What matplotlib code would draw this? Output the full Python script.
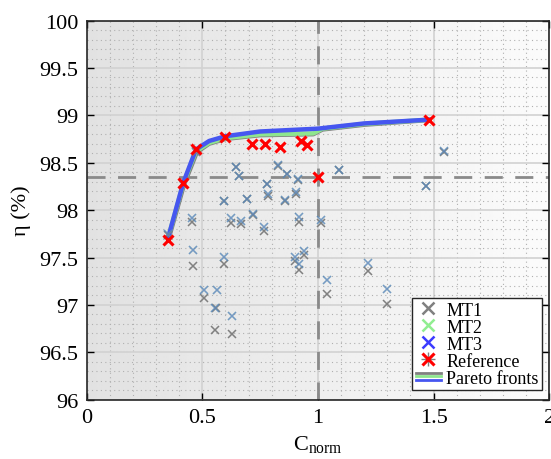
import numpy as np
import matplotlib
matplotlib.use("Agg")
import matplotlib.pyplot as plt
from matplotlib.lines import Line2D
from matplotlib.legend_handler import HandlerBase
from matplotlib.ticker import MultipleLocator

plt.rcParams['font.family'] = ['Liberation Serif', 'DejaVu Serif']
plt.rcParams['mathtext.fontset'] = 'custom'
plt.rcParams['mathtext.rm'] = 'Liberation Serif'
plt.rcParams['mathtext.it'] = 'Liberation Serif:italic'

# design points (normalised cost, efficiency)
mt23_c = [0.353, 0.418, 0.473, 0.458, 0.461, 0.508, 0.565, 0.557, 0.627, 0.594, 0.594, 0.623,
          0.644, 0.660, 0.666, 0.694, 0.718, 0.767, 0.781, 0.785, 0.829, 0.857, 0.865, 0.899,
          0.905, 0.912, 0.918, 0.919, 0.941, 1.012, 1.038, 1.092, 1.215, 1.297, 1.467, 1.546]
mt23_eta = [97.75, 98.29, 98.62, 97.92, 97.58, 97.16, 97.16, 96.97, 96.88, 97.51, 98.10, 97.92,
            98.46, 98.36, 97.89, 98.12, 97.96, 97.82, 98.28, 98.17, 98.48, 98.11, 98.38, 97.51,
            98.19, 98.33, 97.93, 97.43, 97.57, 97.90, 97.26, 98.42, 97.44, 97.17, 98.26, 98.62]
mt1_c = [0.353, 0.418, 0.473, 0.458, 0.461, 0.508, 0.555, 0.559, 0.627, 0.594, 0.594, 0.623,
         0.644, 0.660, 0.666, 0.694, 0.718, 0.767, 0.781, 0.785, 0.829, 0.857, 0.865, 0.899,
         0.905, 0.912, 0.918, 0.919, 0.941, 1.012, 1.038, 1.092, 1.215, 1.297, 1.467, 1.546]
mt1_eta = [97.74, 98.28, 98.61, 97.88, 97.41, 97.07, 96.74, 96.97, 96.69, 97.43, 98.10, 97.86,
           98.46, 98.36, 97.85, 98.12, 97.95, 97.78, 98.28, 98.15, 98.47, 98.10, 98.38, 97.46,
           98.17, 98.32, 97.88, 97.37, 97.53, 97.86, 97.11, 98.42, 97.36, 97.01, 98.25, 98.61]

ref_c = [0.354, 0.418, 0.473, 0.598, 0.713, 0.771, 0.837, 0.925, 0.952, 1.0, 1.482]
ref_eta = [97.69, 98.29, 98.64, 98.77, 98.70, 98.70, 98.67, 98.73, 98.69, 98.35, 98.955]

# pareto fronts
front1_c = [0.358, 0.422, 0.477, 0.53, 0.60, 0.75, 0.98, 1.02, 1.20, 1.48]
front1_eta = [97.72, 98.27, 98.61, 98.70, 98.75, 98.79, 98.80, 98.85, 98.90, 98.95]
front2_c = [0.354, 0.418, 0.473, 0.53, 0.60, 0.75, 0.98, 1.02, 1.20, 1.48]
front2_eta = [97.72, 98.28, 98.62, 98.71, 98.76, 98.80, 98.81, 98.86, 98.91, 98.955]
front3_c = [0.354, 0.418, 0.473, 0.53, 0.60, 0.75, 1.0, 1.20, 1.48]
front3_eta = [97.72, 98.29, 98.64, 98.73, 98.78, 98.83, 98.86, 98.915, 98.955]

c_ref, eta_ref = 1.0, 98.35

gray = '#808080'
green = '#8ee68e'
blue = '#4656f0'


class HandlerFronts(HandlerBase):
    def create_artists(self, legend, orig_handle, xdescent, ydescent,
                       width, height, fontsize, trans):
        out = []
        for i, col in enumerate([gray, green, blue]):
            y = height / 2 - ydescent + (1 - i) * height * 0.28
            out.append(Line2D([-xdescent, width - xdescent], [y, y], color=col,
                              lw=2.0, transform=trans))
        return out


fig = plt.figure(figsize=(5.51, 4.6), dpi=100)
ax = fig.add_axes([0.157, 0.129, 0.84, 0.824])

grad = np.linspace(0.885, 0.985, 256).reshape(1, -1)
ax.imshow(grad, cmap='gray', vmin=0, vmax=1, extent=[0, 2, 96, 100],
          aspect='auto', zorder=0, interpolation='bilinear')

ax.set_xlim(0, 2)
ax.set_ylim(96, 100)
ax.xaxis.set_major_locator(MultipleLocator(0.5))
ax.yaxis.set_major_locator(MultipleLocator(0.5))
ax.xaxis.set_minor_locator(MultipleLocator(0.1))
ax.yaxis.set_minor_locator(MultipleLocator(0.1))
ax.set_axisbelow(True)
ax.grid(which='major', color='#d2d2d2', lw=1.2, ls='-')
ax.grid(which='minor', color='#b0b0b0', lw=0.8, ls=(0, (1, 3)))

ax.tick_params(which='major', direction='in', length=5, width=1.0, top=True, right=True,
               labelsize=16, pad=6)
ax.tick_params(which='minor', length=0)
ax.xaxis.set_major_formatter(plt.FuncFormatter(lambda v, p: f'{v:g}'))
ax.yaxis.set_major_formatter(plt.FuncFormatter(lambda v, p: f'{v:g}'))
for sp in ax.spines.values():
    sp.set_linewidth(1.2)
    sp.set_color('#262626')

# reference guides
ax.axvline(c_ref, color='#8a8a8a', lw=2.0, ls=(0, (6.5, 4.5)), zorder=1)
ax.axhline(eta_ref, color='#8a8a8a', lw=2.0, ls=(0, (6.5, 4.5)), zorder=1)

ax.plot(front1_c, front1_eta, color=gray, lw=3.0, zorder=2)
ax.plot(front2_c, front2_eta, color=green, lw=3.2, zorder=2.1)
ax.plot(front3_c, front3_eta, color=blue, lw=3.2, zorder=2.2)

ax.plot(mt1_c, mt1_eta, 'x', color=gray, ms=6, mew=1.1, zorder=3)
ax.plot(mt23_c, mt23_eta, 'x', color=green, ms=6, mew=1.1, alpha=0.6, zorder=3.1)
ax.plot(mt23_c, mt23_eta, 'x', color='#3a4ad8', ms=6, mew=1.1, alpha=0.5, zorder=3.2)
ax.plot(ref_c, ref_eta, 'x', color='red', ms=7, mew=2.2, zorder=4)

ax.set_xlabel(r'$\mathregular{C_{norm}}$', fontsize=16, labelpad=4)
ax.set_ylabel('η (%)', fontsize=16, labelpad=6)

h_mt1 = Line2D([], [], ls='none', marker='x', color=gray, ms=8, mew=1.8)
h_mt2 = Line2D([], [], ls='none', marker='x', color='#90ee90', ms=8, mew=1.8)
h_mt3 = Line2D([], [], ls='none', marker='x', color='#3c3cff', ms=8, mew=1.8)
h_ref_bg = Line2D([], [], ls='none', marker='+', color=gray, ms=10, mew=1.0)
h_ref = Line2D([], [], ls='none', marker='x', color='red', ms=8, mew=2.2)
h_front = Line2D([], [])
leg = ax.legend([h_mt1, h_mt2, h_mt3, (h_ref_bg, h_ref), h_front],
                ['MT1', 'MT2', 'MT3', 'Reference', 'Pareto fronts'],
                handler_map={h_front: HandlerFronts()},
                loc='lower right', bbox_to_anchor=(0.985, 0.025), fontsize=13,
                fancybox=False, framealpha=1, edgecolor='#262626',
                handlelength=1.4, handletextpad=0.3, labelspacing=0.0,
                borderpad=0.2, borderaxespad=0)
leg.get_frame().set_linewidth(1.0)
leg.set_zorder(10)

fig.savefig('out.png', dpi=100)
